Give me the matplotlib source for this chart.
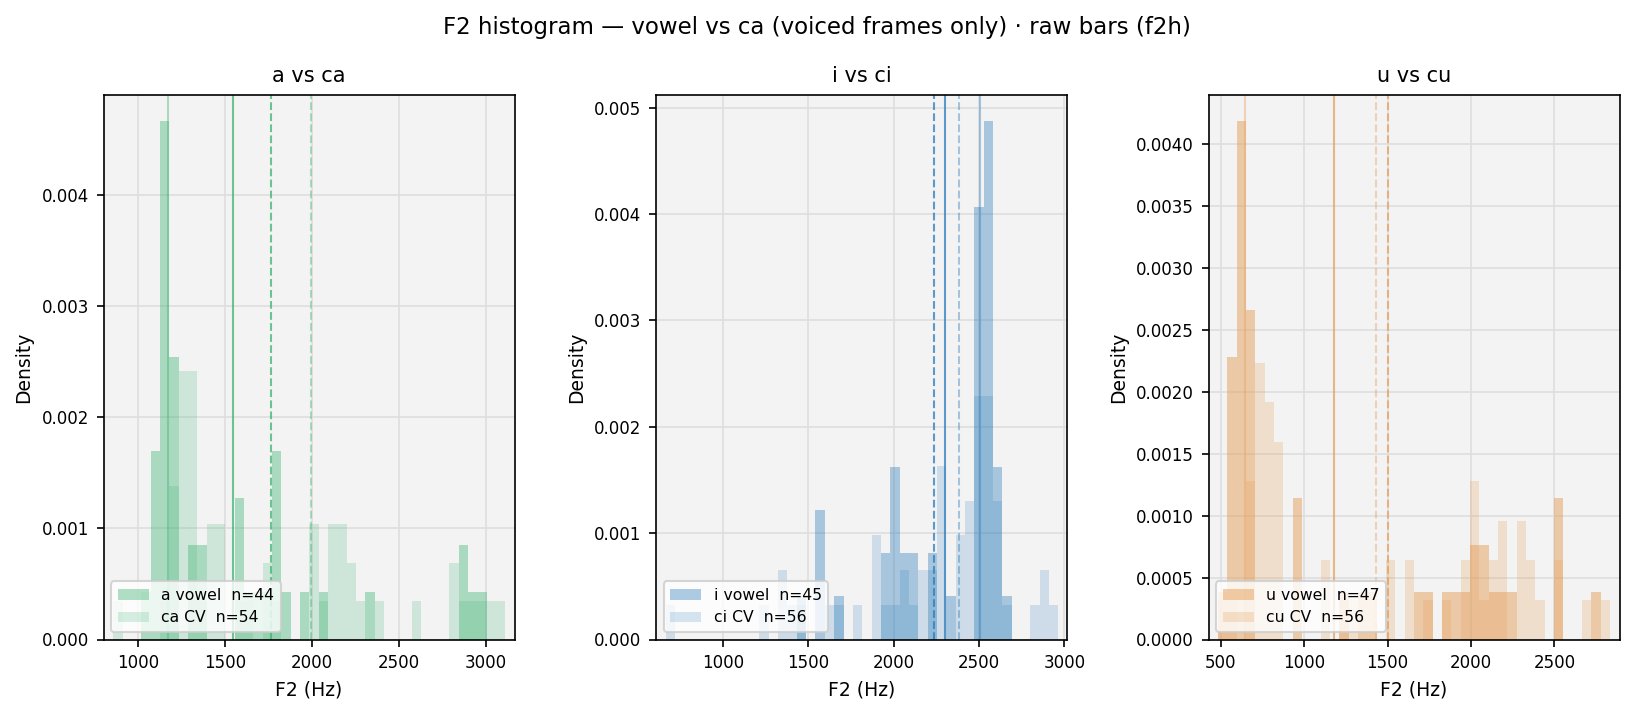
import numpy as np
import matplotlib
matplotlib.use("Agg")
import matplotlib.pyplot as plt

# ---------------- data ----------------
titles = ["a vs ca", "i vs ci", "u vs cu"]
vowel_labels = ["a vowel", "i vowel", "u vowel"]
cv_labels = ["ca CV", "ci CV", "cu CV"]
vowel_n = [44, 45, 47]
cv_n = [54, 56, 56]

# shared bin range per panel (Hz), 42 equal bins
bin_lo = [860, 668, 484]
bin_hi = [3111, 2965, 2832]
n_bins = 42

# counts per bin
a_vowel = [0, 0, 0, 1, 4, 11, 6, 0, 2, 2, 0, 0, 0, 3, 1, 1, 1, 4, 1, 0, 1,
           0, 1, 0, 0, 0, 0, 1, 0, 0, 0, 0, 0, 0, 0, 0, 0, 2, 1, 1, 0, 0]
ca_cv = [1, 0, 0, 0, 0, 1, 4, 7, 7, 1, 3, 3, 0, 1, 1, 0, 2, 1, 0, 0, 0,
         3, 1, 3, 3, 2, 1, 0, 1, 0, 0, 0, 1, 0, 0, 0, 2, 1, 1, 1, 1, 1]
i_vowel = [0, 0, 0, 0, 0, 0, 0, 0, 0, 0, 0, 0, 0, 0, 1, 0, 3, 0, 1, 0, 0,
           0, 0, 2, 4, 2, 2, 0, 2, 0, 1, 0, 0, 10, 12, 4, 1, 0, 0, 0, 0, 0]
ci_cv = [1, 0, 0, 0, 0, 0, 0, 0, 0, 0, 1, 0, 2, 1, 1, 0, 0, 1, 1, 0, 1,
         0, 3, 1, 1, 2, 1, 2, 2, 5, 0, 3, 4, 7, 7, 4, 1, 0, 0, 1, 2, 1]
u_vowel = [1, 6, 11, 7, 0, 0, 0, 0, 3, 0, 0, 0, 0, 1, 0, 1, 1, 0, 0, 0, 0,
           1, 1, 0, 1, 1, 1, 2, 2, 1, 1, 1, 0, 0, 0, 0, 3, 0, 0, 0, 1, 0]
cu_cv = [1, 1, 0, 4, 7, 6, 5, 0, 0, 0, 0, 2, 0, 1, 1, 0, 0, 0, 2, 0, 2,
         0, 1, 0, 1, 0, 2, 4, 1, 2, 3, 0, 3, 2, 1, 0, 2, 0, 0, 1, 0, 1]

vowel_counts = [a_vowel, i_vowel, u_vowel]
cv_counts = [ca_cv, ci_cv, cu_cv]

# reference lines (Hz)
vowel_solid = [1547, 2303, 1177]
vowel_dashed = [1766, 2240, 1501]
cv_solid = [1172, 2506, 646]
cv_dashed = [1997, 2385, 1431]

xlims = [(803, 3163), (609, 3016), (426, 2890)]

base_colors = ["#3cb371", "#2b7bba", "#e6a05a"]
vowel_alpha = [0.40, 0.38, 0.50]
cv_alpha = [0.20, 0.19, 0.25]

# ---------------- figure ----------------
DPI = 150
fig = plt.figure(figsize=(1634 / DPI, 715 / DPI), dpi=DPI)
W, H = 1634, 715
lefts = [103.5, 656.0, 1208.5]
ax_w = 411.0
top_px, bot_px = 95.0, 639.5

for p in range(3):
    ax = fig.add_axes([lefts[p] / W, 1 - bot_px / H, ax_w / W, (bot_px - top_px) / H])
    ax.set_facecolor("#f3f3f3")
    ax.grid(True, color="#dedede", linewidth=0.8)
    ax.set_axisbelow(True)

    edges = np.linspace(bin_lo[p], bin_hi[p], n_bins + 1)
    width = edges[1] - edges[0]
    v = np.array(vowel_counts[p], dtype=float) / (vowel_n[p] * width)
    c = np.array(cv_counts[p], dtype=float) / (cv_n[p] * width)
    col = base_colors[p]
    ax.hist(edges[:-1], bins=edges, weights=v, color=col, alpha=vowel_alpha[p],
            label=f"{vowel_labels[p]}  n={vowel_n[p]}")
    ax.hist(edges[:-1], bins=edges, weights=c, color=col, alpha=cv_alpha[p],
            label=f"{cv_labels[p]}  n={cv_n[p]}")

    ax.axvline(vowel_solid[p], color=col, alpha=0.75, lw=1.0)
    ax.axvline(vowel_dashed[p], color=col, alpha=0.75, lw=1.0, ls="--")
    ax.axvline(cv_solid[p], color=col, alpha=0.4, lw=1.0)
    ax.axvline(cv_dashed[p], color=col, alpha=0.4, lw=1.0, ls="--")

    ax.set_xlim(*xlims[p])
    ax.set_title(titles[p], fontsize=10)
    ax.set_xlabel("F2 (Hz)", fontsize=9)
    ax.set_ylabel("Density", fontsize=9)
    ax.tick_params(labelsize=8)
    ax.legend(loc="lower left", fontsize=7.5)

fig.suptitle("F2 histogram \u2014 vowel vs ca (voiced frames only) \u00b7 raw bars (f2h)",
             fontsize=11, y=0.978)

fig.savefig("out.png", dpi=DPI)
